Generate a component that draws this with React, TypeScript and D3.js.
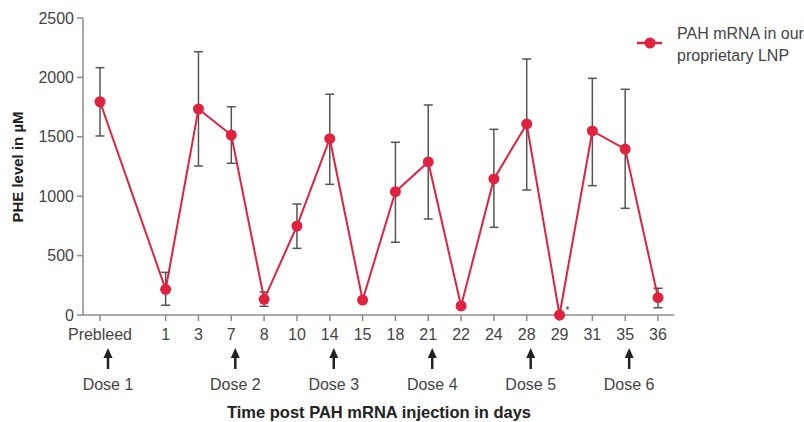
import React from "react";
import * as d3 from "d3";

const categories = ["Prebleed", "1", "3", "7", "8", "10", "14", "15", "18", "21", "22", "24", "28", "29", "31", "35", "36"];
const slots = [0, 2, 3, 4, 5, 6, 7, 8, 9, 10, 11, 12, 13, 14, 15, 16, 17];
const means = [1795, 216, 1734, 1515, 132, 749, 1484, 126, 1038, 1288, 76, 1145, 1608, 0, 1549, 1397, 146];
const upper = [2082, 359, 2216, 1753, 194, 934, 1858, null, 1454, 1768, null, 1563, 2155, null, 1992, 1900, 225];
const lower = [1507, 82, 1254, 1277, 73, 561, 1100, null, 612, 808, null, 738, 1052, null, 1089, 898, 61];
const yTicks = [0, 500, 1000, 1500, 2000, 2500];
const doses = [
  { label: "Dose 1", cat: "Prebleed" },
  { label: "Dose 2", cat: "7" },
  { label: "Dose 3", cat: "14" },
  { label: "Dose 4", cat: "21" },
  { label: "Dose 5", cat: "28" },
  { label: "Dose 6", cat: "35" },
];
const legendLabel = ["PAH mRNA in our", "proprietary LNP"];

const RED = "#e0223f";
const FONT = "'Liberation Sans', Arial, sans-serif";

export default function App() {
  const x = d3.scaleLinear().domain([0, 17]).range([100, 658]);
  const y = d3.scaleLinear().domain([0, 2500]).range([315, 18]);
  const pts: [number, number][] = means.map((m, i) => [x(slots[i]), y(m)]);
  const line = d3.line()(pts) || "";
  const x0 = x(-0.5);
  const x1 = x(17.5);
  const catX = (c: string) => x(slots[categories.indexOf(c)]);

  return (
    <svg width={804} height={422} style={{ position: "absolute", left: 0, top: 0, background: "#fff" }} fontFamily={FONT}>
      {/* Y axis */}
      <line x1={83} x2={83} y1={y(2500)} y2={y(0)} stroke="#8c8c8c" strokeWidth={1.5} />
      {yTicks.map((t) => (
        <g key={t}>
          <line x1={77} x2={83} y1={y(t)} y2={y(t)} stroke="#8c8c8c" strokeWidth={1.5} />
          <text x={74} y={y(t) + 5.5} textAnchor="end" fontSize={16} fill="#444">{t}</text>
        </g>
      ))}
      <text transform={`translate(23, 167) rotate(-90)`} textAnchor="middle" fontSize={15} fontWeight="bold" fill="#222">PHE level in µM</text>

      {/* X axis */}
      <line x1={83} x2={x1} y1={y(0)} y2={y(0)} stroke="#8c8c8c" strokeWidth={1.5} />
      {categories.map((c, i) => (
        <g key={c}>
          <line x1={x(slots[i])} x2={x(slots[i])} y1={y(0)} y2={y(0) + 6} stroke="#8c8c8c" strokeWidth={1.5} />
          <text x={x(slots[i])} y={339.5} textAnchor="middle" fontSize={16} fill="#444">{c}</text>
        </g>
      ))}

      {/* Dose arrows */}
      {doses.map((d) => {
        const ax = catX(d.cat) + (d.cat === "Prebleed" ? 8 : 4);
        return (
          <g key={d.label}>
            <line x1={ax} x2={ax} y1={356} y2={369} stroke="#222" strokeWidth={2.5} />
            <path d={`M${ax},348 L${ax - 4.5},358 L${ax + 4.5},358 Z`} fill="#222" />
            <text x={ax} y={389.5} textAnchor="middle" fontSize={16} fill="#444">{d.label}</text>
          </g>
        );
      })}
      <text x={(x0 + x1) / 2} y={417.5} textAnchor="middle" fontSize={16.5} fontWeight="bold" fill="#222">Time post PAH mRNA injection in days</text>

      {/* Error bars */}
      {means.map((m, i) => {
        const u = upper[i];
        const l = lower[i];
        if (u == null || l == null) return null;
        const cx = x(slots[i]);
        return (
          <g key={"e" + i} stroke="#555" strokeWidth={1.5}>
            <line x1={cx} x2={cx} y1={y(u)} y2={y(l)} />
            <line x1={cx - 4.5} x2={cx + 4.5} y1={y(u)} y2={y(u)} />
            <line x1={cx - 4.5} x2={cx + 4.5} y1={y(l)} y2={y(l)} />
          </g>
        );
      })}

      {/* Line and points */}
      <path d={line} fill="none" stroke={RED} strokeWidth={2} />
      {pts.map((p, i) => (
        <circle key={"p" + i} cx={p[0]} cy={p[1]} r={5.5} fill={RED} />
      ))}
      <text x={catX("29") + 6} y={y(0) - 1} fontSize={10} fill="#444">*</text>

      {/* Legend */}
      <line x1={637} x2={662} y1={43} y2={43} stroke={RED} strokeWidth={2.5} />
      <circle cx={650} cy={43} r={5.5} fill={RED} />
      <text x={677} y={38.5} fontSize={16} fill="#444">{legendLabel[0]}</text>
      <text x={677} y={60.5} fontSize={16} fill="#444">{legendLabel[1]}</text>
    </svg>
  );
}
